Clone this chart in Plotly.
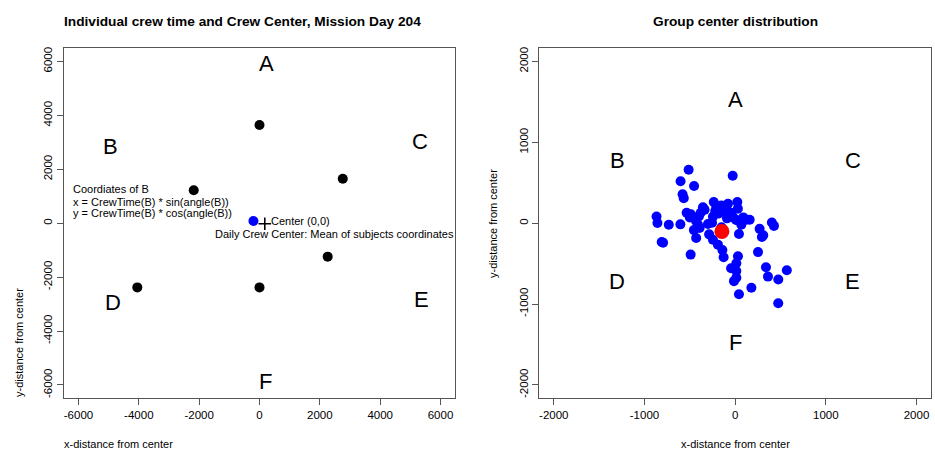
import plotly.graph_objects as go

W, H = 935, 451
FONT = "Liberation Sans, Arial, sans-serif"

# ---------------- data: left panel ----------------
crew_x = [0, -2180, 2760, 2260, 0, -4050]
crew_y = [3640, 1220, 1650, -1240, -2380, -2380]
crew_center_x = [sum(crew_x) / len(crew_x)]
crew_center_y = [sum(crew_y) / len(crew_y)]

left_letters = ["A", "B", "C", "D", "E", "F"]
left_letter_x = [220, -4930, 5330, -4840, 5380, 190]
left_letter_y = [5850, 2780, 2960, -3030, -2890, -5940]

left_ticks = [-6000, -4000, -2000, 0, 2000, 4000, 6000]
left_ticktext = ["-6000", "-4000", "-2000", "0", "2000", "4000", "6000"]
left_range = [-6480, 6480]

# ---------------- data: right panel ----------------
grp_x = [-513, -602, -453, -27, -580, -567, -867, -857, -732, -810, -795, -604,
         -535, -500, -488, -430, -455, -430, -491, -400, -380, -355, -337, -392,
         -410, -236, -208, -220, -152, -180, -245, -255, -130, -116, -98, -79,
         -60, -42, -90, -20, 24, 10, 40, 68, 90, 123, 160, 30, 42, -287, -245,
         -190, -141, -127, 31, 13, -45, 13, -13, 13, 42, 179, 252, 270, 295, 310,
         405, 428, 340, 362, 476, 570, 475, -150, -300]
grp_y = [662, 518, 461, 586, 358, 310, 84, 2, -18, -232, -240, -14,
         130, 70, 110, 25, -85, -183, -388, 84, 130, 196, 166, -59,
         -20, 262, 200, 150, 219, 120, 80, 5, 150, 190, 207, 240,
         110, 130, 60, 70, 262, 40, 30, -18, 72, 43, 43, 180, -134, -138, -205,
         -265, -330, -421, -408, -495, -556, -590, -716, -675, -878, -798, -357, -70, -170, -150,
         8, -33, -544, -660, -696, -581, -990, -50, -10]
grp_mean_x = [-146]
grp_mean_y = [-101]

right_letters = ["A", "B", "C", "D", "E", "F"]
right_letter_x = [0, -1299, 1299, -1299, 1299, 0]
right_letter_y = [1500, 750, 750, -750, -750, -1500]

right_ticks = [-2000, -1000, 0, 1000, 2000]
right_ticktext = ["-2000", "-1000", "0", "1000", "2000"]
right_range = [-2160, 2160]

# ---------------- figure ----------------
fig = go.Figure()

fig.add_trace(go.Scatter(x=crew_x, y=crew_y, mode="markers",
                         marker=dict(color="black", size=10),
                         xaxis="x", yaxis="y", hoverinfo="skip"))
fig.add_trace(go.Scatter(x=crew_center_x, y=crew_center_y, mode="markers",
                         marker=dict(color="#0000FF", size=10),
                         xaxis="x", yaxis="y", hoverinfo="skip"))
fig.add_trace(go.Scatter(x=[175], y=[-20], mode="markers",
                         marker=dict(symbol="cross-thin", size=9,
                                     line=dict(color="black", width=1.6)),
                         xaxis="x", yaxis="y", hoverinfo="skip"))

fig.add_trace(go.Scatter(x=grp_x, y=grp_y, mode="markers",
                         marker=dict(color="#0000FF", size=10),
                         xaxis="x2", yaxis="y2", hoverinfo="skip"))
fig.add_trace(go.Scatter(x=grp_mean_x, y=grp_mean_y, mode="markers",
                         marker=dict(color="#FF0000", size=15),
                         xaxis="x2", yaxis="y2", hoverinfo="skip"))

def px_x(p):
    return p / W

def px_y(p):
    return 1 - p / H

ax_common = dict(showgrid=False, zeroline=False, showline=True, mirror=True,
                 linecolor="#555555", linewidth=1, ticks="outside", ticklen=6,
                 tickcolor="#555555", tickfont=dict(family=FONT, size=11.5, color="black"))

fig.update_layout(
    width=W, height=H, autosize=False,
    margin=dict(l=0, r=0, t=0, b=0),
    paper_bgcolor="white", plot_bgcolor="white",
    showlegend=False,
    xaxis=dict(domain=[px_x(64), px_x(455)], range=left_range, tickvals=left_ticks,
               ticktext=left_ticktext, anchor="y", **ax_common),
    yaxis=dict(domain=[px_y(397.7), px_y(46.7)], range=left_range, tickvals=left_ticks,
               ticktext=left_ticktext, anchor="x", tickangle=-90, **ax_common),
    xaxis2=dict(domain=[px_x(539.3), px_x(931)], range=right_range, tickvals=right_ticks,
                ticktext=right_ticktext, anchor="y2", **ax_common),
    yaxis2=dict(domain=[px_y(397.7), px_y(46.7)], range=right_range, tickvals=right_ticks,
                ticktext=right_ticktext, anchor="x2", tickangle=-90, **ax_common),
)

ann = []
# titles
ann.append(dict(text="<b>Individual crew time and Crew Center, Mission Day 204</b>",
                x=px_x(242), y=px_y(20), xref="paper", yref="paper",
                xanchor="center", yanchor="middle", showarrow=False,
                font=dict(family=FONT, size=13.7, color="black")))
ann.append(dict(text="<b>Group center distribution</b>",
                x=px_x(735), y=px_y(20), xref="paper", yref="paper",
                xanchor="center", yanchor="middle", showarrow=False,
                font=dict(family=FONT, size=13.7, color="black")))
# axis titles
ann.append(dict(text="x-distance from center", x=px_x(64), y=0,
                xref="paper", yref="paper", xanchor="left", yanchor="bottom",
                xshift=-1, yshift=0, borderpad=0, showarrow=False,
                font=dict(family=FONT, size=11, color="black")))
ann.append(dict(text="y-distance from center", x=px_x(19), y=px_y(342.5),
                xref="paper", yref="paper", xanchor="center", yanchor="middle",
                textangle=-90, showarrow=False,
                font=dict(family=FONT, size=11, color="black")))
ann.append(dict(text="x-distance from center", x=px_x(735), y=0,
                xref="paper", yref="paper", xanchor="center", yanchor="bottom",
                yshift=0, borderpad=0, showarrow=False,
                font=dict(family=FONT, size=11, color="black")))
ann.append(dict(text="y-distance from center", x=px_x(493), y=px_y(222),
                xref="paper", yref="paper", xanchor="center", yanchor="middle",
                textangle=-90, showarrow=False,
                font=dict(family=FONT, size=11, color="black")))

# letters
for t, lx, ly in zip(left_letters, left_letter_x, left_letter_y):
    ann.append(dict(text=t, x=lx, y=ly, xref="x", yref="y", showarrow=False,
                    xanchor="center", yanchor="middle", yshift=2,
                    font=dict(family=FONT, size=22, color="black")))
for t, lx, ly in zip(right_letters, right_letter_x, right_letter_y):
    ann.append(dict(text=t, x=lx, y=ly, xref="x2", yref="y2", showarrow=False,
                    xanchor="center", yanchor="middle", yshift=2,
                    font=dict(family=FONT, size=22, color="black")))

# explanatory text (left panel)
notes = [("Coordiates of B", -6197, 1259),
         ("x = CrewTime(B) * sin(angle(B))", -6197, 794),
         ("y = CrewTime(B) * cos(angle(B))", -6197, 388),
         ("Center (0,0)", 387, 66),
         ("Daily Crew Center: Mean of subjects coordinates", -1489, -402)]
for t, nx, ny in notes:
    ann.append(dict(text=t, x=nx, y=ny, xref="x", yref="y", showarrow=False,
                    xanchor="left", yanchor="middle", xshift=-2,
                    font=dict(family=FONT, size=11, color="black")))

fig.update_layout(annotations=ann)
fig.write_html("out.html")
